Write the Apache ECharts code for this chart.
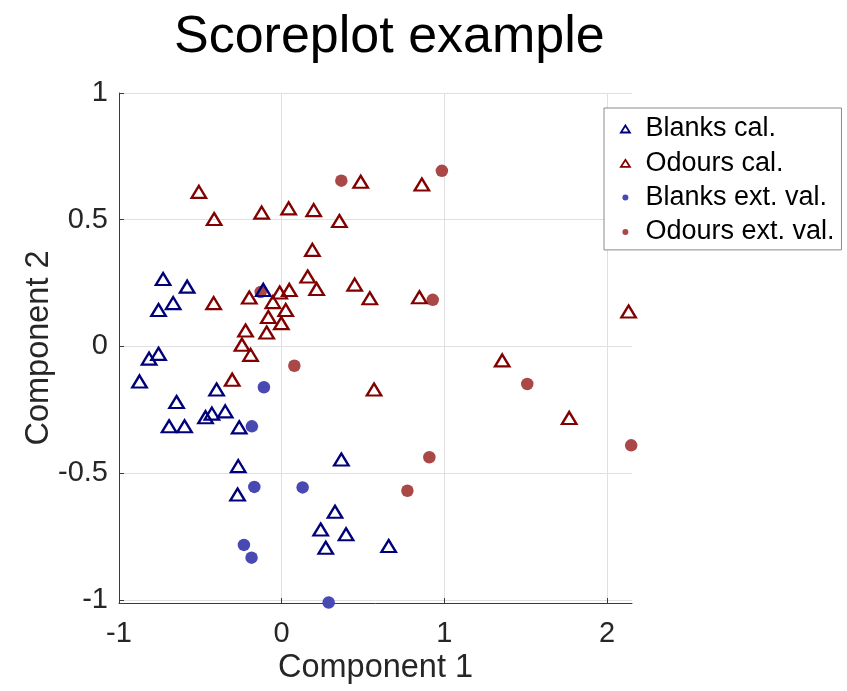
<!DOCTYPE html>
<html>
<head>
<meta charset="utf-8">
<script src="https://cdn.jsdelivr.net/npm/echarts@6/dist/echarts.min.js"></script>
<style>
  html, body { margin: 0; padding: 0; background: #fff; }
  #chart { width: 847px; height: 691px; }
</style>
</head>
<body>
<div id="chart"></div>
<script>
// ---- data (Component 1, Component 2) ----
const blanksCal = [
  [-0.729, 0.266], [-0.581, 0.236], [-0.757, 0.144], [-0.667, 0.171], [-0.113, 0.223],
  [-0.815, -0.048], [-0.757, -0.029], [-0.874, -0.138], [-0.400, -0.170], [-0.646, -0.219],
  [-0.692, -0.315], [-0.597, -0.315], [-0.468, -0.279], [-0.429, -0.265], [-0.347, -0.256],
  [-0.261, -0.319], [-0.267, -0.472], [-0.271, -0.584], [0.367, -0.446], [0.328, -0.652],
  [0.240, -0.722], [0.396, -0.741], [0.271, -0.794], [0.658, -0.787]
];
const odoursCal = [
  [-0.509, 0.610], [-0.415, 0.503], [-0.123, 0.528], [0.043, 0.545], [0.197, 0.538],
  [0.355, 0.495], [0.486, 0.650], [0.189, 0.381], [0.160, 0.276], [0.215, 0.227],
  [0.449, 0.244], [0.542, 0.190], [-0.418, 0.171], [-0.199, 0.193], [-0.012, 0.213],
  [0.047, 0.223], [-0.054, 0.175], [0.025, 0.144], [-0.082, 0.116], [-0.002, 0.092],
  [-0.222, 0.063], [-0.092, 0.055], [-0.244, 0.007], [-0.191, -0.033], [-0.304, -0.131],
  [0.568, -0.170], [0.862, 0.639], [0.847, 0.194], [2.133, 0.138], [1.356, -0.055],
  [1.768, -0.282]
];
const blanksExt = [
  [-0.109, -0.161], [-0.183, -0.315], [-0.168, -0.554], [0.129, -0.556],
  [-0.232, -0.783], [-0.185, -0.833], [0.289, -1.010]
];
const odoursExt = [
  [0.367, 0.654], [-0.129, 0.215], [0.985, 0.693], [0.929, 0.184], [0.078, -0.076],
  [1.510, -0.148], [2.149, -0.390], [0.908, -0.437], [0.773, -0.569]
];
const xTicks = [-1, 0, 1, 2];
const yTicks = [-1, -0.5, 0, 0.5, 1];
const seriesNames = ['Blanks cal.', 'Odours cal.', 'Blanks ext. val.', 'Odours ext. val.'];

// ---- style ----
const NAVY = '#00007a';
const DARKRED = '#820000';
const BLUE_DOT = '#4949b4';
const RED_DOT = '#aa4848';
const FONT = '"Liberation Sans", Arial, Helvetica, sans-serif';
const AXIS_COLOR = '#3a3a3a';
const TEXT_COLOR = '#262626';

const triIcon = 'path://M4.5,0L9,7L0,7Z';
const dotIcon = 'path://M0,0M9,7M4.5,0.5A3,3,0,1,1,4.49,0.5Z';

const chart = echarts.init(document.getElementById('chart'), null, { renderer: 'canvas' });

const option = {
  animation: false,
  backgroundColor: '#ffffff',
  textStyle: { fontFamily: FONT },
  title: {
    text: 'Scoreplot example',
    left: 174,
    top: 12,
    padding: 0,
    textStyle: { fontFamily: FONT, fontSize: 52, fontWeight: 'normal', color: '#000', lineHeight: 52 }
  },
  legend: {
    orient: 'vertical',
    left: 604,
    top: 108,
    padding: [7.5, 7, 4.5, 16],
    itemWidth: 30,
    itemHeight: 7,
    itemGap: 7.3,
    backgroundColor: '#ffffff',
    borderColor: '#8a8a8a',
    borderWidth: 1,
    borderRadius: 0,
    textStyle: { fontFamily: FONT, fontSize: 27, color: '#000', lineHeight: 26 },
    data: [
      { name: seriesNames[0], icon: triIcon, itemStyle: { color: '#fff', borderColor: NAVY, borderWidth: 1.8, opacity: 1 } },
      { name: seriesNames[1], icon: triIcon, itemStyle: { color: '#fff', borderColor: DARKRED, borderWidth: 1.8, opacity: 1 } },
      { name: seriesNames[2], icon: dotIcon, itemStyle: { color: BLUE_DOT, borderWidth: 0, opacity: 1 } },
      { name: seriesNames[3], icon: dotIcon, itemStyle: { color: RED_DOT, borderWidth: 0, opacity: 1 } }
    ]
  },
  grid: { left: 119, top: 93, right: 215, bottom: 88 },
  xAxis: {
    type: 'value',
    min: -1,
    max: 2.154,
    name: 'Component 1',
    nameLocation: 'middle',
    nameGap: 49,
    nameMoveOverlap: false,
    nameTextStyle: { fontFamily: FONT, fontSize: 32.5, color: TEXT_COLOR },
    axisLine: { show: true, onZero: false, lineStyle: { color: AXIS_COLOR, width: 1 } },
    axisTick: { show: true, inside: true, length: 5, customValues: xTicks, lineStyle: { color: AXIS_COLOR } },
    axisLabel: { customValues: xTicks, margin: 16, fontFamily: FONT, fontSize: 29, color: TEXT_COLOR },
    splitLine: { show: true, lineStyle: { color: '#e0e0e0', width: 1 } }
  },
  yAxis: {
    type: 'value',
    min: -1.012,
    max: 1,
    name: 'Component 2',
    nameLocation: 'middle',
    nameGap: 63,
    nameMoveOverlap: false,
    nameTextStyle: { fontFamily: FONT, fontSize: 32.5, color: TEXT_COLOR },
    axisLine: { show: true, onZero: false, lineStyle: { color: AXIS_COLOR, width: 1 } },
    axisTick: { show: true, inside: true, length: 5, customValues: yTicks, lineStyle: { color: AXIS_COLOR } },
    axisLabel: { customValues: yTicks, margin: 11, fontFamily: FONT, fontSize: 29, color: TEXT_COLOR },
    splitLine: { show: true, lineStyle: { color: '#e0e0e0', width: 1 } }
  },
  series: [
    {
      name: seriesNames[2], type: 'scatter', data: blanksExt, clip: false, z: 2,
      symbol: 'circle', symbolSize: 12.5,
      itemStyle: { color: BLUE_DOT, opacity: 1 }
    },
    {
      name: seriesNames[3], type: 'scatter', data: odoursExt, clip: false, z: 2,
      symbol: 'circle', symbolSize: 12.5,
      itemStyle: { color: RED_DOT, opacity: 1 }
    },
    {
      name: seriesNames[0], type: 'scatter', data: blanksCal, clip: false, z: 3,
      symbol: 'triangle', symbolSize: [14.5, 12],
      itemStyle: { color: 'rgba(255,255,255,0)', borderColor: NAVY, borderWidth: 2.3, borderJoin: 'miter', opacity: 1 }
    },
    {
      name: seriesNames[1], type: 'scatter', data: odoursCal, clip: false, z: 3,
      symbol: 'triangle', symbolSize: [14.5, 12],
      itemStyle: { color: 'rgba(255,255,255,0)', borderColor: DARKRED, borderWidth: 2.3, borderJoin: 'miter', opacity: 1 }
    }
  ]
};

chart.setOption(option);
</script>
</body>
</html>
